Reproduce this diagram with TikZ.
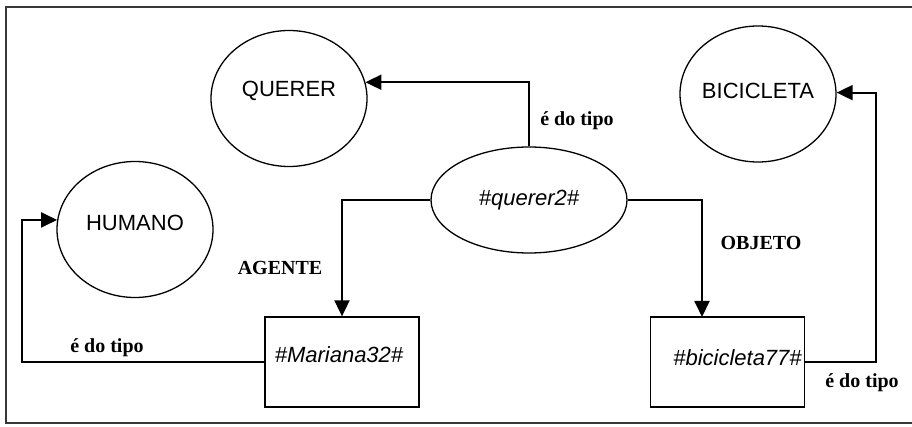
\documentclass[tikz,border=0pt]{standalone}
\usepackage{fontspec}
\setmainfont{Liberation Serif}
\setsansfont{Liberation Sans}
\usetikzlibrary{shapes.geometric,arrows.meta,calc}

\tikzset{
  frame/.style={draw=black!78, line width=2pt},
  concept/.style={ellipse, draw, line width=1.3pt, inner sep=0pt,
    minimum width=156pt, minimum height=136pt},
  event/.style={ellipse, draw, line width=1.3pt, inner sep=0pt,
    minimum width=196pt, minimum height=106pt,
    font=\sffamily\itshape\fontsize{22}{24}\selectfont},
  instance/.style={rectangle, draw, line width=1.3pt, inner sep=0pt,
    minimum width=154pt, minimum height=90pt},
  ntxt/.style={font=\sffamily\fontsize{22}{24}\selectfont, inner sep=0pt},
  itxt/.style={font=\sffamily\itshape\fontsize{22}{24}\selectfont, inner sep=0pt},
  rel/.style={font=\bfseries\fontsize{20}{22}\selectfont, inner sep=0pt},
  link/.style={line width=1.9pt, -{Triangle[length=16pt,width=15pt]}},
}

\begin{document}
\begin{tikzpicture}[x=1pt, y=-1pt]
  \useasboundingbox (0,0) rectangle (912,427);
  \draw[frame] (6,7) rectangle (920,423);

  % concept nodes
  \node[concept, label={[ntxt, yshift=8pt]center:QUERER}] (querer) at (289,98.5) {};
  \node[concept, label={[ntxt, yshift=3pt]center:BICICLETA}] (bici) at (758,94) {};
  \node[concept, label={[ntxt, yshift=6.5pt]center:HUMANO}] (humano) at (135,229.5) {};

  % event node
  \node[event] (querer2) at (529,200) {\#querer2\#};

  % instance nodes
  \node[instance, label={[itxt, xshift=-3pt, yshift=7pt]center:\#Mariana32\#}] (mariana) at (342,362) {};
  \node[instance, label={[itxt, xshift=10pt, yshift=4pt]center:\#bicicleta77\#}] (bike) at (727.5,362) {};

  % routing points
  \coordinate (hcorner) at (22,362);
  \coordinate (bcorner) at (876,362);
  \coordinate (bikein) at (702,317);

  % connectors
  \draw[link] (querer2.north) |- (querer.12);
  \draw[link] (querer2.west) -| (mariana.north);
  \draw[link] (querer2.east) -| (bikein);
  \draw[link] (mariana.west) -- (hcorner) |- (humano.173);
  \draw[link] (bike.east) -- (bcorner) |- (bici.1.5);

  % relation labels
  \node[rel] (lq) at (577,121) {é do tipo};
  \node[rel] (lh) at (107,348) {é do tipo};
  \node[rel] (lb) at (862,383) {é do tipo};
  \node[rel] (lag) at (280,268) {AGENTE};
  \node[rel] (lob) at (761,243) {OBJETO};
\end{tikzpicture}
\end{document}
